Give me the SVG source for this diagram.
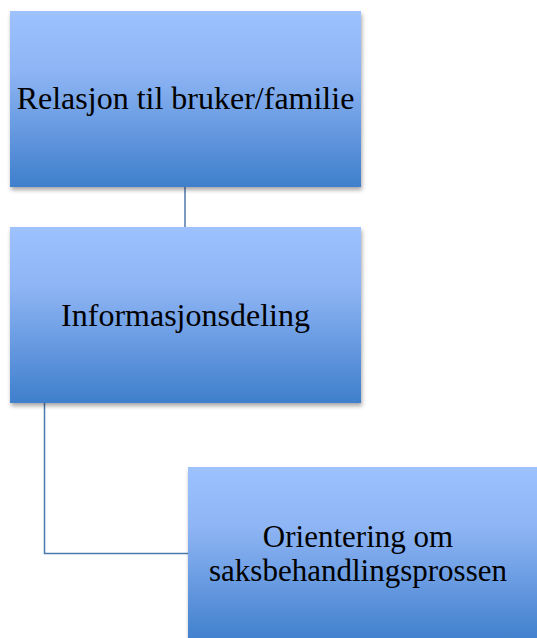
<svg xmlns="http://www.w3.org/2000/svg" width="537" height="638" viewBox="0 0 537 638">
<defs>
<linearGradient id="g" x1="0" y1="0" x2="0" y2="1">
<stop offset="0" stop-color="#9DC2FE"/>
<stop offset="0.35" stop-color="#8DB4F4"/>
<stop offset="1" stop-color="#3F7FCC"/>
</linearGradient>
<filter id="sh" x="-5%" y="-5%" width="115%" height="120%">
<feGaussianBlur in="SourceAlpha" stdDeviation="2"/>
<feOffset dx="1" dy="3"/>
<feComponentTransfer><feFuncA type="linear" slope="0.35"/></feComponentTransfer>
<feMerge><feMergeNode/><feMergeNode in="SourceGraphic"/></feMerge>
</filter>
</defs>
<style>
.box{fill:url(#g);filter:url(#sh)}
.t{font-family:"Liberation Serif","Times New Roman",serif;font-size:32px;fill:#000;text-anchor:middle}
.t3{font-size:31px}
.c{fill:none;stroke:#4E79AE;stroke-width:1.5}
</style>
<rect width="537" height="638" fill="#fff"/>
<g id="connectors">
<path class="c" d="M185,187V227"/>
<path class="c" d="M44.5,403V553.5H190"/>
</g>
<g id="n1">
<rect class="box" x="10" y="11" width="351" height="176"/>
<text class="t" x="185.5" y="109">Relasjon til bruker/familie</text>
</g>
<g id="n2">
<rect class="box" x="10" y="227" width="351" height="176"/>
<text class="t" x="185.5" y="326">Informasjonsdeling</text>
</g>
<g id="n3">
<rect class="box" x="188" y="467" width="351" height="176"/>
<text class="t t3" x="358" y="547">Orientering om</text>
<text class="t t3" x="358" y="581">saksbehandlingsprossen</text>
</g>
</svg>
